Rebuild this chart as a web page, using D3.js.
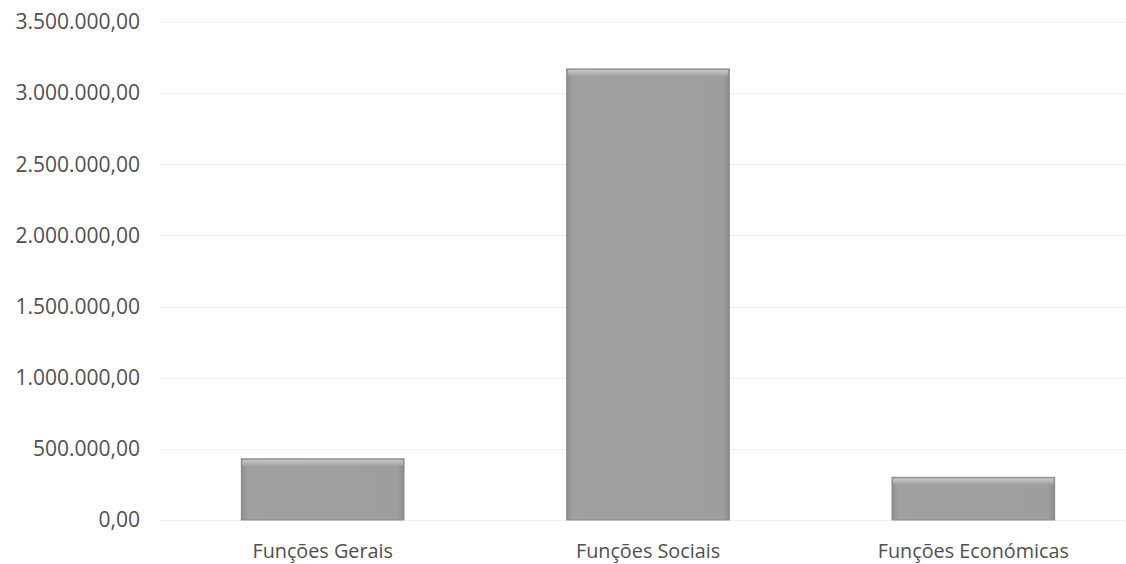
<!DOCTYPE html>
<html><head><meta charset="utf-8">
<script src="https://cdn.jsdelivr.net/npm/d3@7"></script>
<style>body{margin:0;background:#fff}svg{display:block}</style>
</head><body>
<svg id="c" width="1126" height="564"></svg>
<script>
const categories = ["Funções Gerais", "Funções Sociais", "Funções Económicas"];
const values = [430000, 3170000, 300000];
const yTicks = [0, 500000, 1000000, 1500000, 2000000, 2500000, 3000000, 3500000];

const svg = d3.select("#c");
const W = 1126, H = 564;
const m = {left: 160, right: -10, top: 22, bottom: 44};
const x = d3.scaleBand().domain(categories).range([m.left, W - m.right]).paddingInner(0.5).paddingOuter(0.25);
const y = d3.scaleLinear().domain([0, 3500000]).range([H - m.bottom, m.top]);

const fmt = v => {
  const s = d3.format(",.2f")(v);
  return s.replace(/,/g, "#").replace(/\./g, ",").replace(/#/g, ".");
};

const defs = svg.append("defs");
const g1 = defs.append("linearGradient").attr("id","bev").attr("x1",0).attr("y1",0).attr("x2",0).attr("y2",1);
g1.append("stop").attr("offset","0").attr("stop-color","#c8c8c8");
g1.append("stop").attr("offset","1").attr("stop-color","#a2a2a2");
const g2 = defs.append("linearGradient").attr("id","side").attr("x1",0).attr("y1",0).attr("x2",1).attr("y2",0);
g2.append("stop").attr("offset","0").attr("stop-color","#8e8e8e");
g2.append("stop").attr("offset","0.04").attr("stop-color","#a0a0a0");
g2.append("stop").attr("offset","0.96").attr("stop-color","#9e9e9e");
g2.append("stop").attr("offset","1").attr("stop-color","#8c8c8c");

// grid
svg.append("g").selectAll("line").data(yTicks).join("line")
  .attr("x1", m.left).attr("x2", W)
  .attr("y1", d => Math.round(y(d)) + 0.5).attr("y2", d => Math.round(y(d)) + 0.5)
  .attr("stroke", "#f0f0f0").attr("stroke-width", 1);

const FONT = "'Open Sans', sans-serif";
// y axis labels
const ya = svg.append("g").attr("transform", `translate(${m.left},0)`)
  .call(d3.axisLeft(y).tickValues(yTicks).tickFormat(fmt).tickSize(0).tickPadding(20));
ya.select(".domain").remove();
ya.selectAll("text").attr("font-family", FONT).attr("font-size", 21).attr("fill", "#505050");

// bars
const bars = svg.append("g").selectAll("g").data(categories).join("g");
bars.append("rect")
  .attr("x", d => x(d)).attr("width", x.bandwidth())
  .attr("y", (d,i) => y(values[i])).attr("height", (d,i) => y(0) - y(values[i]))
  .attr("fill", "url(#side)").attr("stroke", "#888", ).attr("stroke-width", 1);
bars.append("rect")
  .attr("x", d => x(d) + 1).attr("width", x.bandwidth() - 2)
  .attr("y", (d,i) => y(values[i]) + 1).attr("height", 6)
  .attr("fill", "url(#bev)");

// x axis labels
const xa = svg.append("g").attr("transform", `translate(0,${H - m.bottom})`)
  .call(d3.axisBottom(x).tickSize(0).tickPadding(24));
xa.select(".domain").remove();
xa.selectAll("text").attr("font-family", FONT).attr("font-size", 19.8).attr("fill", "#505050");
</script>
</body></html>
